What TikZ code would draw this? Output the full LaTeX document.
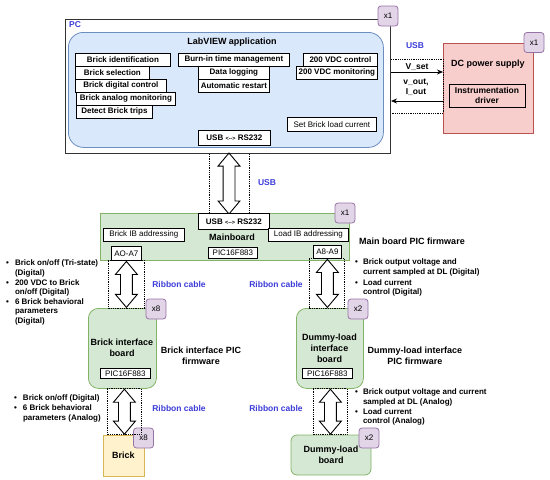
\documentclass[tikz,border=0pt]{standalone}
\usepackage{fontspec}
\setmainfont{Liberation Sans}
\usetikzlibrary{arrows.meta,shapes.arrows,positioning,calc}
\definecolor{lvfill}{HTML}{DAE8FC}
\definecolor{lvline}{HTML}{6C8EBF}
\definecolor{gfill}{HTML}{D5E8D4}
\definecolor{gline}{HTML}{82B366}
\definecolor{rfill}{HTML}{F8CECC}
\definecolor{rline}{HTML}{B85450}
\definecolor{yfill}{HTML}{FFF2CC}
\definecolor{yline}{HTML}{D6B656}
\definecolor{tagfill}{HTML}{E1D5E7}
\definecolor{tagline}{HTML}{9673A6}
\definecolor{usbblue}{HTML}{3C3CD8}
\begin{document}
\begin{tikzpicture}[x=1pt,y=-1pt,
  every node/.style={font=\bfseries\fontsize{8}{9}\selectfont, inner sep=0pt},
  plain/.style={font=\fontsize{8}{9}\selectfont},
  fnbox/.style={draw, fill=white, line width=0.8pt, minimum height=13pt, anchor=north west},
  gbox/.style={draw=gline, fill=gfill, line width=0.8pt},
  tag/.style={draw=tagline, fill=tagfill, rounded corners=3pt, minimum size=20pt, line width=0.8pt, font=\fontsize{8}{9}\selectfont},
  blu/.style={text=usbblue, font=\bfseries\fontsize{8.5}{10}\selectfont},
  head/.style={font=\bfseries\fontsize{9}{11}\selectfont, align=center},
  bul/.style={anchor=north west, align=left, font=\bfseries\fontsize{8}{9.6}\selectfont},
  dotln/.style={densely dotted, line width=0.8pt},
  sig/.style={-{Stealth[length=6pt,width=5pt]}, line width=0.8pt},
  dblarrow/.style={double arrow, draw, fill=white, line width=0.9pt, rotate=90, inner xsep=0pt, inner ysep=5.5pt, minimum width=21pt, double arrow head extend=5pt, double arrow tip angle=80}]
  \useasboundingbox (0,0) rectangle (550,480);
  \def\arrs{{\fontsize{5.5}{6}\selectfont<{-}{-}>}}
  \def\pad{3}
  % PC and LabVIEW application
  \node[draw=black!80, line width=1pt, minimum width=325pt, minimum height=134pt, anchor=north west] (pcbox) at (65,19) {};
  \node[blu, anchor=north west] (pclbl) at (69,21) {PC};
  \node[draw=lvline, fill=lvfill, line width=0.8pt, rounded corners=15pt, minimum width=315pt, minimum height=115pt, anchor=north west] (labview) at (68,32) {};
  \node[head] (lvtitle) at (232,42) {LabVIEW application};
  \foreach \nm/\x/\y/\w/\txt in {bident/75/52.5/95/Brick identification, bsel/75/65.5/74/Brick selection,
      bdig/75/78.5/91/Brick digital control, bana/76/91.5/99/Brick analog monitoring,
      btrip/76/104.5/76/Detect Brick trips, burnin/178/52.5/111/Burn-in time management,
      dlog/198/65.5/71/Data logging, arest/198/78.5/71/Automatic restart,
      vdcctl/303/52.5/74/200 VDC control, vdcmon/296/65.5/81/200 VDC monitoring} {
      \node[fnbox, minimum width=\w pt] (\nm) at (\x,\y) {\txt};
  }
  \node[fnbox, plain, minimum width=89pt, minimum height=14pt] (setload) at (287,117) {Set Brick load current};
  \node[fnbox, minimum width=72pt, minimum height=15pt] (pcusb) at (198,130) {USB \arrs\ RS232};
  \node[tag] (pctag) at (388,16) {x1};
  % DC power supply
  \node[draw=rline, fill=rfill, line width=0.8pt, minimum width=90pt, minimum height=90pt, anchor=north west] (psu) at (443,43) {};
  \node[head] (psulbl) at (488,64) {DC power supply};
  \node[draw, line width=0.8pt, minimum width=76pt, minimum height=23pt, align=center, font=\bfseries\fontsize{8.5}{10}\selectfont] (instdrv) at (487,95.5) {Instrumentation\\driver};
  \node[tag] (psutag) at (534,42.5) {x1};
  \coordinate (usbhi) at (443,59);
  \coordinate (usblo) at (443,113);
  \coordinate (vsetrow) at (0,72);
  \coordinate (voutrow) at (0,101);
  \draw[dotln] (pcbox.east |- usbhi) -- (usbhi) -- (usblo) -- (pcbox.east |- usblo);
  \node[blu] (usblbl1) at (415,46) {USB};
  \draw[sig] (pcbox.east |- vsetrow) -- node[above=1pt, font=\bfseries\fontsize{8.5}{10}\selectfont] (vsetlbl) {V\_set} (psu.west |- vsetrow);
  \draw[sig] (psu.west |- voutrow) -- (pcbox.east |- voutrow);
  \node[align=center, font=\bfseries\fontsize{8.5}{10}\selectfont] (voutlbl) at (416,87) {v\_out,\\I\_out};
  % Mainboard
  \node[gbox, minimum width=249pt, minimum height=47pt, anchor=north west] (mainboard) at (100,213) {};
  \coordinate (usbmid) at (229,0);
  \draw[dotln] (pcbox.south -| 209,0) -- (mainboard.north -| 209,0);
  \draw[dotln] (pcbox.south -| 249,0) -- (mainboard.north -| 249,0);
  \path (pcbox.south -| usbmid) -- node[dblarrow, minimum height=61pt] (usbarrow) {} (mainboard.north -| usbmid);
  \node[blu] (usblbl2) at (267,183) {USB};
  \node[fnbox, minimum width=71pt, minimum height=16pt] (mbusb) at (198,213) {USB \arrs\ RS232};
  \node[fnbox, plain, minimum width=81pt] (brickib) at (103,228) {Brick IB addressing};
  \node[fnbox, plain, minimum width=80pt] (loadib) at (268,228) {Load IB addressing};
  \node[head] (mblbl) at (232,237) {Mainboard};
  \node[fnbox, plain, minimum width=49pt, minimum height=11pt] (mbpic) at (208,247) {PIC16F883};
  \node[fnbox, plain, minimum width=30pt, minimum height=14pt] (aoa7) at (111,246) {AO-A7};
  \node[fnbox, plain, minimum width=28pt, minimum height=13pt] (a8a9) at (313,245) {A8-A9};
  \node[tag] (mbtag) at (345,213) {x1};
  \node[head] (mbfw) at (412,241) {Main board PIC firmware};
  % interface boards
  \node[gbox, rounded corners=10pt, minimum width=68pt, minimum height=80pt, anchor=north west] (bib) at (88,308) {};
  \node[head] (biblbl) at (122,348) {Brick interface\\board};
  \node[fnbox, plain, minimum width=50pt, minimum height=10pt] (bibpic) at (100,368) {PIC16F883};
  \node[tag] (bibtag) at (156,309) {x8};
  \node[head] (bibfw) at (201,355.5) {Brick interface PIC\\firmware};
  \node[gbox, rounded corners=10pt, minimum width=67pt, minimum height=80pt, anchor=north west] (dlib) at (296,308) {};
  \node[head] (dliblbl) at (329.5,348) {Dummy-load\\interface\\board};
  \node[fnbox, plain, minimum width=50pt, minimum height=10pt] (dlibpic) at (302,368) {PIC16F883};
  \node[tag] (dlibtag) at (358,309) {x2};
  \node[head] (dlfw) at (415,355.5) {Dummy-load interface\\PIC firmware};
  % ribbon cables, upper
  \draw[dotln] ($(aoa7.south west)+(-\pad,0)$) rectangle ($(aoa7.east |- bib.north)+(\pad,0)$);
  \path (aoa7.south) -- node[dblarrow, minimum height=46pt] (ribarr1) {} (aoa7.south |- bib.north);
  \draw[dotln] ($(a8a9.south west)+(-4,0)$) rectangle ($(a8a9.east |- dlib.north)+(\pad,0)$);
  \path (a8a9.south) -- node[dblarrow, minimum height=48pt] (ribarr2) {} (a8a9.south |- dlib.north);
  \node[blu] (rib1) at (179,284) {Ribbon cable};
  \node[blu] (rib2) at (276,284) {Ribbon cable};
  % bricks and loads
  \node[draw=yline, fill=yfill, line width=0.8pt, head, minimum width=41pt, minimum height=41pt] (brick) at (123.5,455.5) {Brick};
  \node[tag] (bricktag) at (143.5,438) {x8};
  \node[gbox, head, rounded corners=6pt, minimum width=80pt, minimum height=40pt] (dlb) at (331,455) {Dummy-load\\board};
  \node[tag] (dlbtag) at (369,438) {x2};
  \draw[dotln] ($(bib.south)+(-15,0)$) rectangle ($(brick.north)+(17.5,0)$);
  \path ($(bib.south)+(2,0)$) -- node[dblarrow, minimum height=45pt] (ribarr3) {} ($(bib.south |- brick.north)+(2,0)$);
  \draw[dotln] ($(dlib.south)+(-16.5,0)$) rectangle ($(dlb.north)+(16,0)$);
  \path ($(dlib.south)+(0.5,0)$) -- node[dblarrow, minimum height=45pt] (ribarr4) {} ($(dlib.south |- dlb.north)+(0.5,0)$);
  \node[blu] (rib3) at (179,408) {Ribbon cable};
  \node[blu] (rib4) at (276,408) {Ribbon cable};
  % signal lists
  \node[bul] (bibsig) at (6,259) {\begin{tabular}{@{}l@{\hspace{6pt}}l@{}}\textbullet & Brick on/off (Tri-state)\\ & (Digital)\\ \textbullet & 200 VDC to Brick\\ & on/off (Digital)\\ \textbullet & 6 Brick behavioral\\ & parameters\\ & (Digital)\end{tabular}};
  \node[bul] (dlibsig) at (355,258) {\begin{tabular}{@{}l@{\hspace{5pt}}l@{}}\textbullet & Brick output voltage and\\ & current sampled at DL (Digital)\\[1pt] \textbullet & Load current\\ & control (Digital)\end{tabular}};
  \node[bul] (bricksig) at (14,394) {\begin{tabular}{@{}l@{\hspace{6pt}}l@{}}\textbullet & Brick on/off (Digital)\\ \textbullet & 6 Brick behavioral\\ & parameters (Analog)\end{tabular}};
  \node[bul] (dlbsig) at (355,388) {\begin{tabular}{@{}l@{\hspace{5pt}}l@{}}\textbullet & Brick output voltage and current\\ & sampled at DL (Analog)\\ \textbullet & Load current\\ & control (Analog)\end{tabular}};
\end{tikzpicture}
\end{document}
